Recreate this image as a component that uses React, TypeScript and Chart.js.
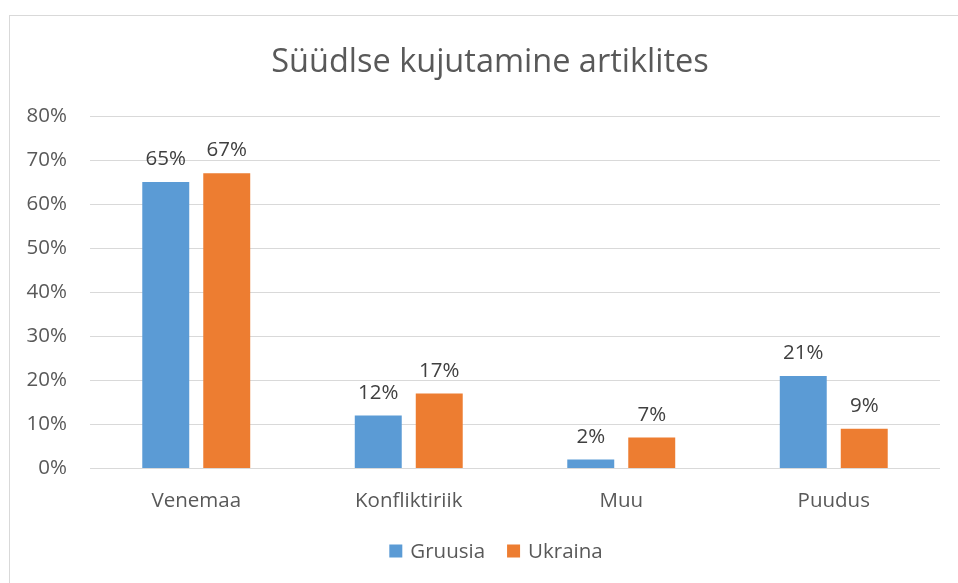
import React, { useEffect, useRef } from "react";
import { Chart, registerables } from "chart.js";

Chart.register(...registerables);

const categories = ["Venemaa", "Konfliktiriik", "Muu", "Puudus"];
const gruusia = [65, 12, 2, 21];
const ukraina = [67, 17, 7, 9];
const seriesNames = ["Gruusia", "Ukraina"];
const seriesColors = ["#5B9BD5", "#ED7D31"];
const titleText = "Süüdlse kujutamine artiklites";

const FONT = "'Open Sans', 'Noto Sans', sans-serif";
const TEXT = "#595959";

const dataLabels = {
  id: "dataLabels",
  afterDatasetsDraw(chart: any) {
    const ctx = chart.ctx;
    ctx.save();
    ctx.font = `20.5px ${FONT}`;
    ctx.fillStyle = "#404040";
    ctx.textAlign = "center";
    ctx.textBaseline = "alphabetic";
    chart.data.datasets.forEach((ds: any, i: number) => {
      const meta = chart.getDatasetMeta(i);
      meta.data.forEach((bar: any, j: number) => {
        ctx.fillText(ds.data[j] + "%", bar.x, bar.y - 17);
      });
    });
    ctx.restore();
  },
};

const titleAndLegend = {
  id: "titleAndLegend",
  afterDraw(chart: any) {
    const ctx = chart.ctx;
    ctx.save();
    // title
    ctx.font = `32.5px ${FONT}`;
    ctx.fillStyle = TEXT;
    ctx.textAlign = "center";
    ctx.textBaseline = "middle";
    ctx.fillText(titleText, chart.width / 2, 47);
    // legend
    ctx.font = `20.5px ${FONT}`;
    const box = 13;
    const gapText = 8;
    const gapItem = 22;
    const items = chart.data.datasets.map((ds: any) => ({
      label: ds.label,
      color: ds.backgroundColor,
      w: box + gapText + ctx.measureText(ds.label).width,
    }));
    const total = items.reduce((s: number, it: any) => s + it.w, 0) + gapItem * (items.length - 1);
    let x = chart.width / 2 - total / 2 + 6;
    const cy = chart.height - 37;
    ctx.textAlign = "left";
    items.forEach((it: any) => {
      ctx.fillStyle = it.color;
      ctx.fillRect(x, cy - box / 2, box, box);
      ctx.fillStyle = TEXT;
      ctx.fillText(it.label, x + box + gapText, cy + 1);
      x += it.w + gapItem;
    });
    ctx.restore();
  },
};

export default function App() {
  const ref = useRef<HTMLCanvasElement>(null);
  useEffect(() => {
    const chart = new Chart(ref.current!, {
      type: "bar",
      data: {
        labels: categories,
        datasets: [
          { label: seriesNames[0], data: gruusia, backgroundColor: seriesColors[0], categoryPercentage: 0.574, barPercentage: 0.77 },
          { label: seriesNames[1], data: ukraina, backgroundColor: seriesColors[1], categoryPercentage: 0.574, barPercentage: 0.77 },
        ],
      },
      options: {
        animation: false,
        responsive: false,
        maintainAspectRatio: false,
        layout: { padding: { left: 0, right: 30, top: 100, bottom: 55 } },
        plugins: {
          title: { display: false },
          legend: { display: false },
          tooltip: { enabled: false },
        },
        scales: {
          x: {
            grid: { display: false, drawTicks: false },
            border: { display: false },
            ticks: { color: TEXT, font: { family: FONT, size: 20.5 }, padding: 20 },
          },
          y: {
            min: 0,
            max: 80,
            grid: { color: "#d9d9d9", drawTicks: false, lineWidth: 1 },
            border: { display: false },
            afterFit: (axis: any) => {
              axis.width = 80;
            },
            ticks: {
              stepSize: 10,
              color: TEXT,
              font: { family: FONT, size: 20.5 },
              padding: 23,
              callback: (v: any) => v + "%",
            },
          },
        },
      },
      plugins: [dataLabels, titleAndLegend],
    });
    return () => chart.destroy();
  }, []);
  return (
    <div
      style={{
        position: "absolute",
        left: 9,
        top: 15,
        width: 960,
        height: 580,
        border: "1px solid #d9d9d9",
        background: "#fff",
      }}
    >
      <canvas ref={ref} width={960} height={572} style={{ display: "block" }} />
    </div>
  );
}
